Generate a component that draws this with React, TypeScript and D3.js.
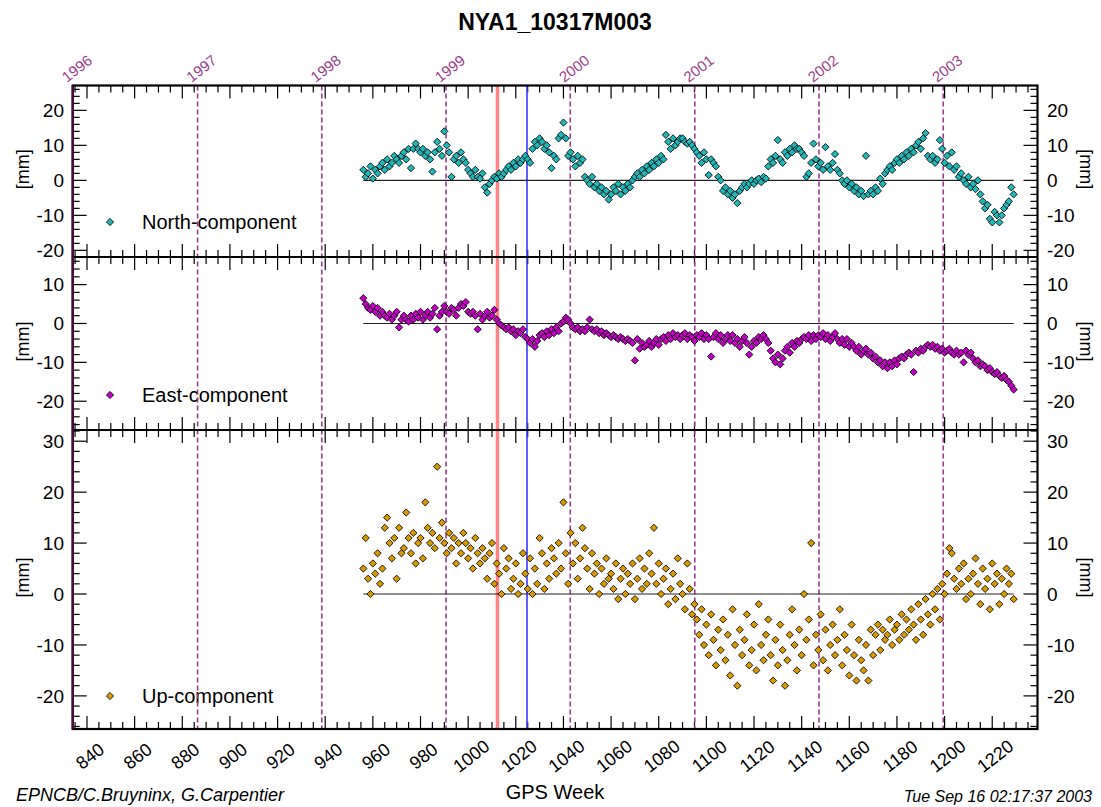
import React from 'react'
import * as d3 from 'd3'

// weekly solutions, GPS week 956 .. 1229
const weeks = d3.range(956, 1230)

const northValues = [
  3, 1, 2, 4, 0.5, 3, 2, 4, 5, 3,
  6, 4, 5, 7, 6, 5, 7, 8, 6, 9,
  3.5, 9, 10.5, 9, 8, 9, 7, 8, 6, 2.5,
  8, 11, 9, 7, 14, 10, 8, 1, 6, 7,
  5, 8, 6, 5, 3, 2, 1, 3, 1, 0.5,
  2, -2, -3.5, -1, 0, 1, 0.5, 2, 1, 2,
  3, 4, 3, 5, 4, 6, 5, 6, 7, 6,
  5, 9, 11, 10, 12, 11, 9, 10, 8, 3.5,
  7, 6, 12, 13, 16.5, 12, 7, 8, 6, 4,
  7, 5, 6, 1, 0, -1, 1, -2, -1, -3,
  -2, -4, -3, -5.5, -4, -2, -3, -1, -4, -2,
  -3, -1, -2, 0, 1, 2, 1, 3, 2, 4,
  3, 5, 4, 6, 5, 7, 6, 13, 11, 9,
  12, 10, 11, 12, 12, 11, 10.5, 11, 10, 9,
  8, 7, 5, 8, 6, 1.5, 6, 5, 4, 1,
  0, -3, -2, -4, -3, -5, -4, -6.5, -3, -2,
  -1, -2, -1, 0, -1, 0, 0.5, -0.5, 1, 0.5,
  4, 6, 5, 7, 11.5, 6, 5, 8, 7, 9,
  8, 10, 9, 9, 8, 7, 1, 2, 5, 10.5,
  6, 4, 5, 3, 9.5, 4, 3, 5, 7.5, 3,
  2, 0, -1, 0, -2, -1, -3, -2, -4, -3,
  -4.5, 7, -4, -3, -4, -2, -3, 0.5, -1, 2,
  3, 4, 3, 5, 6, 5, 7, 6, 8, 7,
  9, 8, 10, 11, 9, 12, 13.5, 7, 6, 7,
  5, 6, 11.5, 9, 5, 7, 4, 8, 3, 4,
  1, 2, 0, -1, 1, -2, -1, -2.5, 0, -4,
  -6, -8, -7, -11, -12, -9, -10, -12, -10, -8,
  -7, -6, -2, -4,
]

const eastValues = [
  6.5, 5, 4, 3.5, 4.5, 3, 4, 2, 3, 2,
  1.5, 2.5, 1, 2, 3, -1, 1, 2, 1, 0.5,
  2, 1, 2.5, 1.5, 3, 1, 2, 3, 1.5, 2.5,
  4, -1.5, 2, 3, 4.5, 3, 2.5, 4, 3.5, 2,
  4, 5, 4.5, 5.5, 3, 2.5, 3, 2, -1.5, 2.5,
  1, 2, 3, 1.5, 2, 3.5, 1, 0, -0.5, -1,
  -1.5, -1, -2, -1.5, -3, -2, -2.5, -1.5, -3.5, -4,
  -5, -4, -6, -4.5, -3, -2.5, -3.5, -2, -3, -1.5,
  -2.5, -1, -2, 0, 0.5, 1.5, 1, 0, -1, -1.5,
  -1, -2, -1.5, -2, -1, 1, -1.5, -2, -1.5, -2.5,
  -2, -3, -2.5, -3, -3.5, -3, -3.5, -4, -3.5, -4,
  -4.5, -4, -4.5, -5, -9.5, -4, -6.5, -5, -6, -5.5,
  -4.5, -6, -5, -4, -5.5, -4, -3.5, -4.5, -3, -4,
  -2.5, -3.5, -3, -4, -3, -2.5, -4, -3, -3.5, -4.5,
  -3, -3.5, -2.5, -4, -3, -4, -8.5, -3.5, -2.5, -4,
  -3, -5, -4, -3, -4.5, -3, -5, -4, -6, -4.5,
  -3.5, -5, -8, -6, -4.5, -5, -3.5, -4, -3, -4,
  -5, -7, -9, -10, -8, -10.5, -9, -7, -6, -7.5,
  -5, -6, -4.5, -5, -4, -3.5, -4, -3, -4.5, -3,
  -4, -3, -3.5, -2.5, -4, -3, -4.5, -3.5, -2.5, -4,
  -5, -4, -5.5, -4, -6, -5, -6, -7, -6, -8,
  -7, -6.5, -8, -7.5, -9, -8.5, -10, -9.5, -11, -10,
  -11.5, -10, -11, -9.5, -10.5, -9, -8.5, -9, -8, -7.5,
  -8, -12.5, -7, -7.5, -6.5, -7, -6, -5.5, -6, -5.5,
  -6.5, -6, -7, -6.5, -7.5, -7, -6.5, -7.5, -8, -7,
  -8, -7.5, -10, -7, -8, -7.5, -9, -10, -9.5, -11,
  -10.5, -11, -12, -11.5, -12.5, -13, -12.5, -13.5, -14, -13.5,
  -14.5, -15, -16, -17,
]

const upValues = [
  5, 11, 3, 0, 6, 4, 8, 2, 5, 13,
  15, 10, 7, 11, 3, 13, 8, 9, 16, 11,
  8, 12, 6, 10, 11, 7, 18, 13, 10, 12,
  9, 25, 11, 14, 10, 8, 12, 9, 11, 6,
  10, 8, 12, 10, 7, 9, 5, 11, 8, 6,
  9, 7, 3, 8, 10, 2, 6, 4, 0, 9,
  5, 7, 1, 3, 6, 0, 2, 8, 4, 1,
  7, 0, 5, 2, 11, 8, 1, 6, 3, 9,
  7, 4, 10, 5, 18, 8, 2, 12, 6, 10,
  3, 7, 13, 9, 5, 1, 8, 4, 6, 0,
  5, 2, 7, 3, 4, 1, 6, -1, 3, 5,
  0, 4, 2, 6, -1, 3, 7, 1, 5, 2,
  8, 4, 13, 2, 6, 0, 3, 5, -2, 1,
  4, -1, 7, 2, 0, -3, 6, 1, -4, -2,
  -5, -8, -3, -10, -6, -12, -4, -9, -14, -7,
  -11, -5, -13, -8, -16, -3, -10, -18, -7, -12,
  -9, -4, -14, -11, -6, -15, -2, -10, -13, -8,
  -5, -12, -17, -9, -14, -6, -11, -18, -13, -8,
  -3, -10, -15, -7, -12, 0, -9, -5, 10, -14,
  -8, -11, -4, -13, -7, -15, -10, -6, -12, -9,
  -3, -14, -8, -11, -16, -6, -12, -17, -9, -13,
  -15, -10, -17, -7, -12, -8, -6, -11, -7, -9,
  -8, -5, -10, -7, -6, -9, -4, -8, -5, -7,
  -3, -6, -9, -2, -5, -8, -1, -4, -6, 0,
  -3, 1, -5, 2, 0, 4, 9, 8, 3, 1,
  5, 2, 6, -1, 3, 0, 4, 7, 2, -2,
  5, 1, 3, -3, 6, 2, 4, -2, 3, 0,
  5, 2, 4, -1,
]

const yearLabels = ['1996', '1997', '1998', '1999', '2000', '2001', '2002', '2003']
const yearWeeks = [834.14, 886.43, 938.57, 990.71, 1042.86, 1095.14, 1147.29, 1199.43]
const weekTicks = d3.range(840, 1221, 20)
const redWeek = 1012.3
const blueWeek = 1024.7

const panels = [
  { name: 'North-component', values: northValues, fill: '#1fb8b8', domain: [-21.9, 27.1], y0: 85.5, y1: 257, labels: [-20, -10, 0, 10, 20], legendY: 222 },
  { name: 'East-component', values: eastValues, fill: '#c400c4', domain: [-27.4, 17.1], y0: 257, y1: 430, labels: [-20, -10, 0, 10], legendY: 395 },
  { name: 'Up-component', values: upValues, fill: '#d99a00', domain: [-26.5, 32.2], y0: 430, y1: 729, labels: [-20, -10, 0, 10, 20, 30], legendY: 696 },
]

const L = 72.7
const R = 1037.5
const font = '"Liberation Sans", Arial, Helvetica, sans-serif'
const purple = '#9a3d8c'

export default function App() {
  const x = d3.scaleLinear().domain([834, 1239]).range([L, R])
  const diamond = d3.symbol(d3.symbolSquare, 26)()
  const minorWeeks = d3.range(835, 1239, 5).filter((w) => w % 20 !== 0)

  return (
    <svg width={1101} height={807} style={{ position: 'absolute', left: 0, top: 0, background: '#fff' }} fontFamily={font}>
      <text x={555} y={30} textAnchor="middle" fontSize={23} fontWeight="bold">NYA1_10317M003</text>

      {yearWeeks.map((w, i) => (
        <text key={'yl' + i} transform={`translate(${x(w) - 6},83) rotate(-38)`} fontSize={15} fill={purple}>{yearLabels[i]}</text>
      ))}

      {panels.map((p) => {
        const y = d3.scaleLinear().domain(p.domain).range([p.y1, p.y0])
        const minorY = d3.range(Math.ceil(p.domain[0] / 2) * 2, p.domain[1], 2).filter((v) => v % 10 !== 0)
        const majorY = d3.range(Math.ceil(p.domain[0] / 10) * 10, p.domain[1], 10)
        const mid = (p.y0 + p.y1) / 2 - 2
        return (
          <g key={p.name}>
            {/* y ticks, both sides, inward */}
            {minorY.map((v) => (
              <g key={'mi' + v} stroke="#000" strokeWidth={1.2}>
                <line x1={L} x2={L + 7} y1={y(v)} y2={y(v)} />
                <line x1={R} x2={R - 7} y1={y(v)} y2={y(v)} />
              </g>
            ))}
            {majorY.map((v) => (
              <g key={'ma' + v} stroke="#000" strokeWidth={1.2}>
                <line x1={L} x2={L + 14} y1={y(v)} y2={y(v)} />
                <line x1={R} x2={R - 14} y1={y(v)} y2={y(v)} />
              </g>
            ))}
            {p.labels.map((v) => (
              <g key={'lb' + v} fontSize={19}>
                <text x={64} y={y(v)} dy="0.35em" textAnchor="end">{v}</text>
                <text x={1047} y={y(v)} dy="0.35em">{v}</text>
              </g>
            ))}
            {/* x ticks at top and bottom of each panel, inward */}
            {minorWeeks.map((w) => (
              <g key={'xm' + w} stroke="#000" strokeWidth={1.2}>
                <line x1={x(w)} x2={x(w)} y1={p.y0} y2={p.y0 + 7} />
                <line x1={x(w)} x2={x(w)} y1={p.y1} y2={p.y1 - 7} />
              </g>
            ))}
            {weekTicks.map((w) => (
              <g key={'xM' + w} stroke="#000" strokeWidth={1.2}>
                <line x1={x(w)} x2={x(w)} y1={p.y0} y2={p.y0 + 13} />
                <line x1={x(w)} x2={x(w)} y1={p.y1} y2={p.y1 - 13} />
              </g>
            ))}
            <text transform={`translate(29,${mid}) rotate(-90)`} textAnchor="middle" fontSize={18}>[mm]</text>
            <text transform={`translate(1080,${mid}) rotate(90)`} textAnchor="middle" fontSize={18}>[mm]</text>
            <path d={diamond} transform={`translate(110,${p.legendY}) rotate(45)`} fill={p.fill} stroke="#000" strokeWidth={0.8} />
            <text x={142} y={p.legendY} dy="0.35em" fontSize={20}>{p.name}</text>
          </g>
        )
      })}

      {/* year, red and blue vertical lines */}
      {yearWeeks.map((w, i) => (
        <line key={'yv' + i} x1={x(w)} x2={x(w)} y1={85.5} y2={729} stroke={purple} strokeWidth={1.6} strokeDasharray="5,3" />
      ))}
      <line x1={x(redWeek)} x2={x(redWeek)} y1={85.5} y2={729} stroke="#ff8585" strokeWidth={3.5} />
      <line x1={x(blueWeek)} x2={x(blueWeek)} y1={85.5} y2={729} stroke="#3838ff" strokeWidth={1.6} />

      {panels.map((p) => {
        const y = d3.scaleLinear().domain(p.domain).range([p.y1, p.y0])
        return (
          <g key={'pts' + p.name}>
            <line x1={x(weeks[0])} x2={x(weeks[weeks.length - 1])} y1={y(0)} y2={y(0)} stroke="#222" strokeWidth={1.2} />
            {p.values.map((v, i) => (
              <path key={i} d={diamond} transform={`translate(${x(weeks[i])},${y(v)}) rotate(45)`} fill={p.fill} stroke="#000" strokeWidth={0.8} />
            ))}
          </g>
        )
      })}

      {/* frame */}
      <rect x={L} y={85.5} width={R - L} height={729 - 85.5} fill="none" stroke="#000" strokeWidth={2.2} />
      <line x1={L} x2={R} y1={257} y2={257} stroke="#000" strokeWidth={2.2} />
      <line x1={L} x2={R} y1={430} y2={430} stroke="#000" strokeWidth={2.2} />
      <line x1={L} x2={L} y1={85.5} y2={729} stroke="#4a0a3c" strokeWidth={2.2} />

      {weekTicks.map((w) => (
        <text key={'xt' + w} transform={`translate(${x(w) + 3},756) rotate(-38)`} textAnchor="middle" dy="0.35em" fontSize={18}>{w}</text>
      ))}
      <text x={555} y={799} textAnchor="middle" fontSize={20}>GPS Week</text>
      <text x={16} y={801} fontSize={18} fontStyle="italic">EPNCB/C.Bruyninx, G.Carpentier</text>
      <text x={1092} y={802} textAnchor="end" fontSize={16} fontStyle="italic">Tue Sep 16 02:17:37 2003</text>
    </svg>
  )
}
